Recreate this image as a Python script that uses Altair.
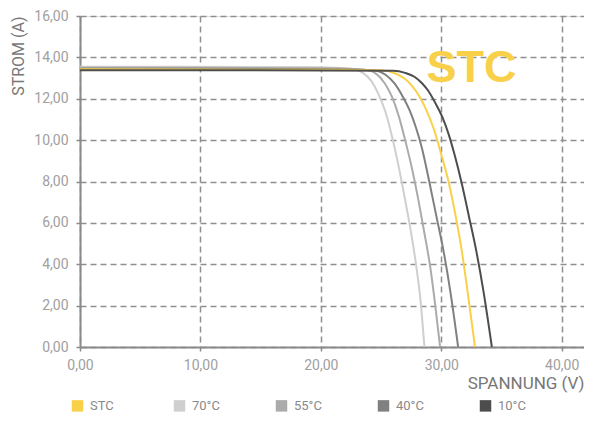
import altair as alt
import pandas as pd

series_names = ["STC", "70°C", "55°C", "40°C", "10°C"]
series_colors = ["#F9D04A", "#CFCFCF", "#ABABAB", "#808080", "#4D4D4D"]

v_70 = [0, 20, 22.5, 23.5, 24.2, 24.8, 25.4, 25.9, 26.4, 27.0, 27.5, 27.9, 28.3, 28.6]
i_70 = [13.55, 13.52, 13.45, 13.25, 12.85, 12.2, 11.3, 10.2, 8.9, 7.1, 5.5, 4.0, 2.1, 0]

v_55 = [0, 20, 23.5, 24.6, 25.3, 25.9, 26.5, 27.0, 27.5, 28.1, 28.6, 29.1, 29.5, 29.9]
i_55 = [13.5, 13.48, 13.42, 13.2, 12.75, 12.1, 11.1, 10.0, 8.8, 7.1, 5.5, 3.8, 2.0, 0]

v_40 = [0, 20, 24.3, 25.4, 26.1, 26.8, 27.4, 27.9, 28.4, 29.0, 29.6, 30.2, 30.8, 31.4]
i_40 = [13.45, 13.43, 13.38, 13.15, 12.75, 12.1, 11.4, 10.6, 9.6, 8.0, 6.3, 4.6, 2.5, 0]

v_stc = [0, 20, 25.0, 26.2, 27.0, 27.6, 28.2, 28.8, 29.4, 30.0, 30.6, 31.2, 31.7, 32.2, 32.8]
i_stc = [13.42, 13.4, 13.38, 13.22, 12.95, 12.6, 12.1, 11.4, 10.5, 9.3, 8.0, 6.3, 4.66, 2.6, 0]

v_10 = [0, 20, 26.0, 27.0, 27.8, 28.4, 28.9, 29.5, 30.1, 30.6, 31.1, 31.7, 32.3, 32.9, 33.5, 34.2]
i_10 = [13.38, 13.37, 13.35, 13.25, 13.05, 12.75, 12.4, 11.8, 11.1, 10.3, 9.3, 7.9, 6.3, 4.66, 2.7, 0]

x_ticks = [0, 10, 20, 30, 40]
y_ticks = [0, 2, 4, 6, 8, 10, 12, 14, 16]

stc_label = ["STC"]
stc_pos_v = [32.5]
stc_pos_i = [13.5]

rows = []
for name, vs, is_ in [("70°C", v_70, i_70), ("55°C", v_55, i_55), ("40°C", v_40, i_40),
                      ("STC", v_stc, i_stc), ("10°C", v_10, i_10)]:
    for k, (v, i) in enumerate(zip(vs, is_)):
        rows.append({"serie": name, "V": v, "I": i, "k": k})
df = pd.DataFrame(rows)

label_expr = "replace(format(datum.value, '.2f'), '.', ',')"
font = "Roboto"

x_enc = alt.X("V:Q", scale=alt.Scale(domain=[0, 41.85], nice=False),
              axis=alt.Axis(values=x_ticks, labelExpr=label_expr, title="SPANNUNG (V)",
                            titleX=504, titleY=36, titleAlign="right", titleBaseline="middle",
                            titleFontSize=17, titleFontWeight="normal", titleColor="#777777",
                            titleFont=font, labelFont=font, labelFontSize=14, labelColor="#A0A0A0",
                            labelPadding=7, labelFlush=False, tickSize=4, tickColor="#8A8A8A",
                            tickWidth=1.5, domainColor="#8A8A8A", domainWidth=2,
                            grid=True, gridDash=[6, 4], gridColor="#8F8F8F", gridWidth=1.5))
y_enc = alt.Y("I:Q", scale=alt.Scale(domain=[0, 16], nice=False),
              axis=alt.Axis(values=y_ticks, labelExpr=label_expr, title="STROM (A)",
                            titleX=-62, titleY=0, titleAlign="right", titleBaseline="middle",
                            titleAngle=270,
                            titleFontSize=16, titleFontWeight="normal", titleColor="#777777",
                            titleFont=font, labelFont=font, labelFontSize=14, labelColor="#A0A0A0",
                            labelPadding=8, labelFlush=False, tickSize=4, tickColor="#8A8A8A",
                            tickWidth=1.5, domainColor="#8A8A8A", domainWidth=2,
                            grid=True, gridDash=[6, 4], gridColor="#8F8F8F", gridWidth=1.5))

lines = alt.Chart(df).mark_line(strokeWidth=2, interpolate="monotone").encode(
    x=x_enc,
    y=y_enc,
    order="k:Q",
    color=alt.Color("serie:N",
                    scale=alt.Scale(domain=series_names, range=series_colors),
                    legend=alt.Legend(title=None, orient="none", legendX=-9, legendY=383,
                                      direction="horizontal", columns=5, gridAlign="all",
                                      columnPadding=46, symbolType="square", symbolSize=30,
                                      symbolStrokeWidth=6, labelFont=font, labelFontSize=13,
                                      labelColor="#8A8A8A", labelOffset=6)),
)

stc_df = pd.DataFrame({"t": stc_label, "V": stc_pos_v, "I": stc_pos_i})
stc_text = alt.Chart(stc_df).mark_text(font="Liberation Sans", fontWeight="bold", fontSize=45,
                                       color="#F9D04A", baseline="middle", align="center").encode(
    x="V:Q", y="I:Q", text="t:N")

chart = alt.layer(lines, stc_text).properties(
    width=504, height=331,
    autosize=alt.AutoSizeParams(type="none"),
    padding={"left": 72, "top": 8, "right": 0, "bottom": 67},
).configure_view(stroke="#9A9A9A", strokeWidth=1.5).configure(background="white")

chart.save("out.html", embed_options={"renderer": "svg", "actions": False})
